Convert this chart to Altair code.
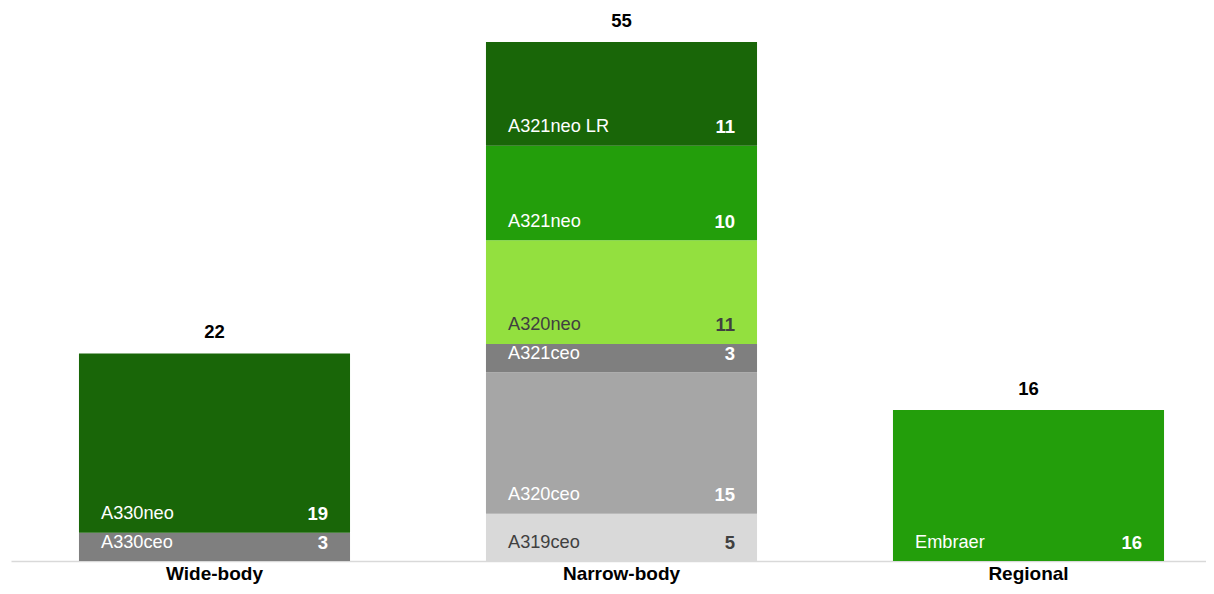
import altair as alt
import pandas as pd

categories = ["Wide-body", "Narrow-body", "Regional"]
seg_category = ["Wide-body", "Wide-body",
                "Narrow-body", "Narrow-body", "Narrow-body", "Narrow-body", "Narrow-body", "Narrow-body",
                "Regional"]
seg_model = ["A330ceo", "A330neo",
             "A319ceo", "A320ceo", "A321ceo", "A320neo", "A321neo", "A321neo LR",
             "Embraer"]
seg_value = [3, 19, 5, 15, 3, 11, 10, 11, 16]
seg_color = ["#7f7f7f", "#196608",
             "#d9d9d9", "#a6a6a6", "#7f7f7f", "#93e03f", "#239e0b", "#196608",
             "#239e0b"]
dark_text_models = ["A319ceo", "A320neo"]

df = pd.DataFrame({"category": seg_category, "model": seg_model, "value": seg_value, "color": seg_color})
df["key"] = df["category"] + "|" + df["model"]
df["end"] = df.groupby("category")["value"].cumsum()
df["start"] = df["end"] - df["value"]

FONT = "Liberation Sans"
x_enc = alt.X("category:N", sort=categories,
              scale=alt.Scale(range=[0, 1221], paddingInner=0.334, paddingOuter=0.167),
              axis=alt.Axis(title=None, labelFont=FONT, labelFontSize=19, labelFontWeight="bold",
                            labelColor="#000000", labelAngle=0, ticks=False, labelPadding=3,
                            domainColor="#d9d9d9", domainWidth=1.5))
y_scale = alt.Scale(domain=[0, 55], nice=False, zero=True)

base = alt.Chart(df)

bars = base.mark_bar().encode(
    x=x_enc,
    y=alt.Y("start:Q", scale=y_scale, axis=None),
    y2="end:Q",
    color=alt.Color("key:N", scale=alt.Scale(domain=list(df["key"]), range=seg_color), legend=None),
)

text_color = alt.condition(alt.FieldOneOfPredicate(field="model", oneOf=dark_text_models),
                           alt.value("#404040"), alt.value("#ffffff"))

names = base.mark_text(align="left", baseline="middle", dx=-113.5, dy=-18.5,
                       font=FONT, fontSize=18.2).encode(
    x=alt.X("category:N", sort=categories),
    y=alt.Y("start:Q", scale=y_scale),
    text="model:N",
    color=text_color,
)

vals = base.mark_text(align="right", baseline="middle", dx=113.5, dy=-18.5,
                      font=FONT, fontSize=18.5, fontWeight="bold").encode(
    x=alt.X("category:N", sort=categories),
    y=alt.Y("start:Q", scale=y_scale),
    text="value:Q",
    color=text_color,
)

totals = base.transform_aggregate(total="sum(value)", groupby=["category"]).mark_text(
    align="center", baseline="middle", dy=-21, font=FONT, fontSize=18.5, fontWeight="bold", color="#000000"
).encode(
    x=alt.X("category:N", sort=categories),
    y=alt.Y("total:Q", scale=y_scale),
    text="total:Q",
)

chart = alt.layer(bars, names, vals, totals).properties(
    width=1195, height=519,
    autosize=alt.AutoSizeParams(type="none"),
    padding={"left": 3, "top": 34, "right": 0, "bottom": 25},
    background="#ffffff",
).configure_view(stroke=None)

chart.save("out.html", embed_options={"renderer": "svg", "actions": False})
